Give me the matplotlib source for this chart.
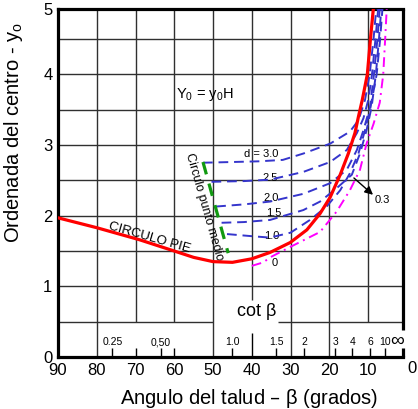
import numpy as np
import matplotlib
matplotlib.use('Agg')
import matplotlib.pyplot as plt
from matplotlib.transforms import blended_transform_factory

plt.rcParams['font.family'] = ['Liberation Sans', 'DejaVu Sans']

# Circulo pie (red)
red_beta = [90, 80, 69, 60, 55, 50, 45, 40, 35.3, 30.1, 25.8, 22.4, 19.8, 17.2, 15.1, 13.4, 12.5, 11.5, 10.2, 9.4, 8.65]
red_y = [1.97, 1.83, 1.66, 1.50, 1.41, 1.35, 1.34, 1.39, 1.48, 1.62, 1.80, 2.03, 2.26, 2.58, 2.88, 3.17, 3.40, 3.64, 4.0, 4.5, 4.93]

# curvas d (blue dashed)
d_labels = ['d = 3.0', '2.5', '2.0', '1.5', '1.0']
d_beta = [
    [52.6, 45, 38, 32, 26.7, 19.8, 14.7, 12.5, 10.8, 9.6, 8.6, 7.9],
    [50.4, 42, 35.3, 26.7, 19.8, 15.5, 12.9, 11.2, 9.95, 9.0, 8.1, 7.4],
    [49.2, 42, 35.3, 26.7, 19.8, 15.5, 12.9, 11.2, 9.5, 8.5, 7.6, 7.0],
    [47.8, 42, 35.3, 26.7, 22.4, 18.1, 14.2, 12.1, 10.4, 9.1, 8.0, 7.2, 6.6],
    [46.4, 40, 35.3, 30, 25, 20.7, 17.2, 14.7, 12.5, 10.8, 9.5, 7.8, 6.9, 6.3],
]
d_y = [
    [2.75, 2.76, 2.77, 2.79, 2.88, 3.02, 3.19, 3.35, 3.64, 4.0, 4.5, 4.93],
    [2.48, 2.49, 2.51, 2.62, 2.76, 2.93, 3.17, 3.38, 3.64, 4.0, 4.5, 4.93],
    [2.13, 2.16, 2.20, 2.31, 2.46, 2.65, 2.93, 3.21, 3.54, 4.0, 4.5, 4.93],
    [1.90, 1.91, 1.94, 2.08, 2.20, 2.39, 2.58, 2.88, 3.21, 3.54, 4.0, 4.5, 4.93],
    [1.74, 1.71, 1.69, 1.76, 1.94, 2.13, 2.36, 2.60, 2.88, 3.21, 3.5, 4.0, 4.5, 4.93],
]
d_label_pos = [(37.5, 2.87), (35.3, 2.54), (34.9, 2.25), (34.3, 2.04), (34.9, 1.71)]

# curva d = 0 (magenta)
mag_beta = [40, 37, 35.3, 30, 22.4, 18.1, 14.7, 12.1, 10.4, 8.6, 7.0, 6.1, 5.6, 5.2]
mag_y = [1.29, 1.34, 1.41, 1.56, 1.77, 2.06, 2.36, 2.65, 3.02, 3.30, 3.60, 4.0, 4.5, 4.93]

# circulo punto medio (green)
green_beta = [52.6, 46.1]
green_y = [2.76, 1.47]

# escala cot beta
cot_vals = [0.25, 0.5, 1.0, 1.5, 2, 3, 4, 6, 10]
cot_text = ['0.25', '0,50', '1.0', '1.5', '2', '3', '4', '6', '10']

x_ticks = [90, 80, 70, 60, 50, 40, 30, 20, 10]
y_top = 4.93

fig = plt.figure(figsize=(4.18, 4.09), dpi=100)
ax = fig.add_axes([58 / 418, 52 / 409, 345 / 418, 348.3 / 409])
ax.set_xlim(90, 1)
ax.set_ylim(0, y_top)

# grid
gc = '#303030'
for yy in np.arange(1.0, 4.6, 0.5):
    ax.hlines(yy, 90, 1, color=gc, lw=1, zorder=1)
ax.hlines(0.5, 90, 50, color=gc, lw=1, zorder=1)
ax.hlines(0.5, 33.2, 1, color=gc, lw=1, zorder=1)
for xx in [80, 50, 30, 20]:
    ax.vlines(xx, 0, y_top, color=gc, lw=1, zorder=1)
for xx in [70, 60, 10]:
    ax.vlines(xx, 0.5, y_top, color=gc, lw=1, zorder=1)
ax.vlines(40, 0.8, y_top, color=gc, lw=1, zorder=1)

# cot beta ticks
for xx in [70, 60]:
    ax.vlines(xx, 0, 0.13, color='black', lw=1)
ax.vlines(40, 0, 0.34, color='black', lw=1)
cot_beta = np.degrees(np.arctan(1 / np.array(cot_vals)))
for b, t in zip(cot_beta, cot_text):
    ax.vlines(b, 0, 0.13, color='black', lw=1)
    ax.text(b, 0.14, t, fontsize=7.5, ha='center', va='bottom')
ax.text(2.6, 0.22, '∞', fontsize=14, ha='center', va='center')
ax.text(38.9, 0.64, r'cot $\mathregular{\beta}$', fontsize=13, ha='center', va='center')

# curves
ax.plot(red_beta, red_y, color='#ff0000', lw=2.3, zorder=5)
for bs, ys in zip(d_beta, d_y):
    ax.plot(bs, ys, color='#3535cc', lw=1.4, dashes=(5, 3), zorder=4)
for (bx, by), lab in zip(d_label_pos, d_labels):
    ax.text(bx, by, lab, fontsize=8, ha='center', va='center')
ax.plot(mag_beta, mag_y, color='#ff00ff', lw=1.4, dashes=(5, 2.5, 1, 2.5), zorder=4)
ax.text(34.0, 1.33, '0', fontsize=8, ha='center', va='center')
ax.plot(green_beta, green_y, color='#119911', lw=2.3, dashes=(4, 3), zorder=4)

ax.annotate('', xy=(8.2, 2.27), xytext=(14.2, 2.56),
            arrowprops=dict(arrowstyle='-|>', color='black', lw=1, mutation_scale=12))
ax.text(6.3, 2.22, '0.3', fontsize=8, ha='center', va='center')

ax.text(52, 3.71, r'Y$_\mathregular{0}$ = y$_\mathregular{0}$H', fontsize=10.5, ha='center', va='center')
ax.text(66.5, 1.69, 'CIRCULO PIE', fontsize=9.5, rotation=-16, ha='center', va='center',
        rotation_mode='anchor')
ax.text(52.3, 2.12, 'Circulo punto medio', fontsize=9, rotation=-74, ha='center', va='center',
        rotation_mode='anchor')

# frame
for s in ['left', 'bottom', 'top']:
    ax.spines[s].set_linewidth(2.3)
ax.spines['right'].set_visible(False)
ax.plot([1, 1], [0.38, y_top], color='black', lw=2.3, clip_on=False, zorder=6, solid_capstyle='butt')
ax.plot([1, 1], [0, 0.13], color='black', lw=2.3, clip_on=False, zorder=6, solid_capstyle='butt')

ax.set_xticks(x_ticks)
ax.set_xticklabels([str(v) for v in x_ticks])
ax.set_yticks([0, 1, 2, 3, 4, y_top])
ax.set_yticklabels(['0', '1', '2', '3', '4', '5'])
ax.tick_params(length=0, labelsize=12, pad=4)
tr = blended_transform_factory(ax.transData, ax.transAxes)
ax.text(-1.3, -0.012, '0', fontsize=12, ha='center', va='top', transform=tr, clip_on=False)

ax.set_xlabel(r'Angulo del talud – $\mathregular{\beta}$ (grados)', fontsize=14.5)
ax.set_ylabel(r'Ordenada del centro - y$_\mathregular{o}$', fontsize=14.5)
ax.xaxis.set_label_coords(0.555, -0.085)
ax.yaxis.set_label_coords(-0.095, 0.645)

fig.savefig('out.png', dpi=100)
